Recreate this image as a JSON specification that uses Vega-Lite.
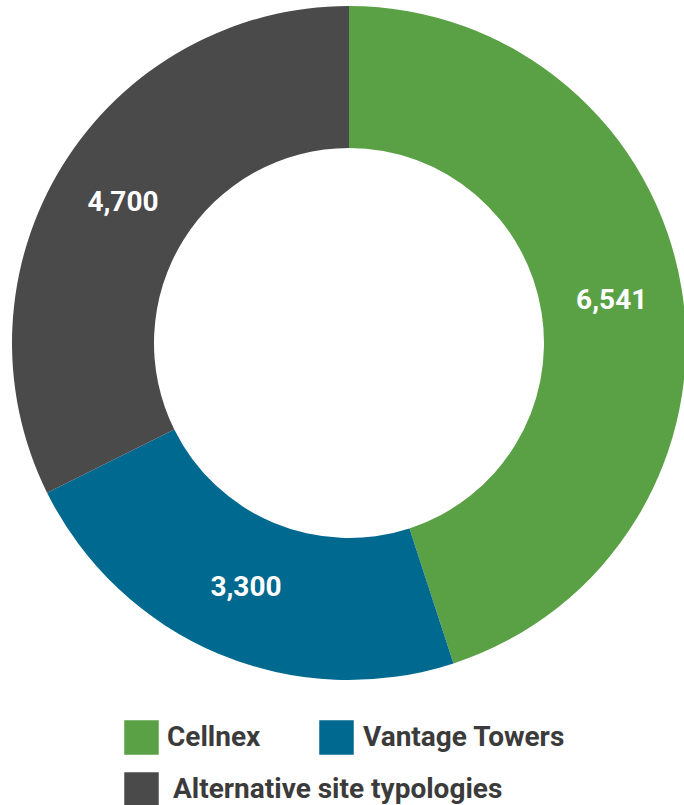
{
  "$schema": "https://vega.github.io/schema/vega-lite/v6.json",
  "width": 670,
  "height": 686,
  "padding": {"left": 14, "top": 0, "right": 0, "bottom": 119},
  "autosize": {"type": "none"},
  "background": "white",
  "config": {
    "view": {"stroke": null},
    "legend": {
      "title": null, "orient": "none", "direction": "horizontal",
      "symbolType": "square", "symbolSize": 1190, "symbolStrokeWidth": 0, "symbolOpacity": 1,
      "labelFont": "Roboto", "labelFontSize": 28, "labelFontWeight": "bold", "labelColor": "#3b3b3b",
      "labelLimit": 0, "padding": 0
    }
  },
  "data": {"values": [
    {"cat": "Cellnex", "value": 6541},
    {"cat": "Vantage Towers", "value": 3300},
    {"cat": "Alternative site typologies", "value": 4700}
  ]},
  "transform": [
    {"window": [{"op": "row_number", "as": "idx"}]},
    {"stack": "value", "groupby": [], "sort": [{"field": "idx", "order": "ascending"}], "as": ["v0", "v1"]}
  ],
  "layer": [
    {
      "transform": [{"filter": "datum.cat === 'Cellnex'"}],
      "mark": {"type": "arc", "radius": 337, "radius2": 195},
      "encoding": {
        "theta": {"field": "v0", "type": "quantitative"},
        "theta2": {"field": "v1"},
        "color": {
          "field": "cat", "type": "nominal",
          "scale": {"domain": ["Cellnex"], "range": ["#5aa146"]},
          "legend": {"legendX": 110, "legendY": 720, "labelOffset": 8}
        }
      }
    },
    {
      "transform": [{"filter": "datum.cat === 'Vantage Towers'"}],
      "mark": {"type": "arc", "radius": 337, "radius2": 195},
      "encoding": {
        "theta": {"field": "v0", "type": "quantitative"},
        "theta2": {"field": "v1"},
        "color": {
          "field": "cat", "type": "nominal",
          "scale": {"domain": ["Vantage Towers"], "range": ["#006990"]},
          "legend": {"legendX": 305, "legendY": 720, "labelOffset": 9}
        }
      }
    },
    {
      "transform": [{"filter": "datum.cat === 'Alternative site typologies'"}],
      "mark": {"type": "arc", "radius": 337, "radius2": 195},
      "encoding": {
        "theta": {"field": "v0", "type": "quantitative"},
        "theta2": {"field": "v1"},
        "color": {
          "field": "cat", "type": "nominal",
          "scale": {"domain": ["Alternative site typologies"], "range": ["#4a4a4a"]},
          "legend": {"legendX": 110, "legendY": 772, "labelOffset": 14}
        }
      }
    },
    {
      "mark": {"type": "text", "radius": 266, "font": "Roboto", "fontSize": 28, "fontWeight": "bold", "color": "#ffffff"},
      "encoding": {
        "theta": {"field": "value", "type": "quantitative", "stack": true},
        "order": {"field": "idx", "type": "quantitative", "sort": "ascending"},
        "text": {"field": "value", "type": "quantitative", "format": ","}
      }
    }
  ],
  "resolve": {"scale": {"color": "independent"}, "legend": {"color": "independent"}}
}
